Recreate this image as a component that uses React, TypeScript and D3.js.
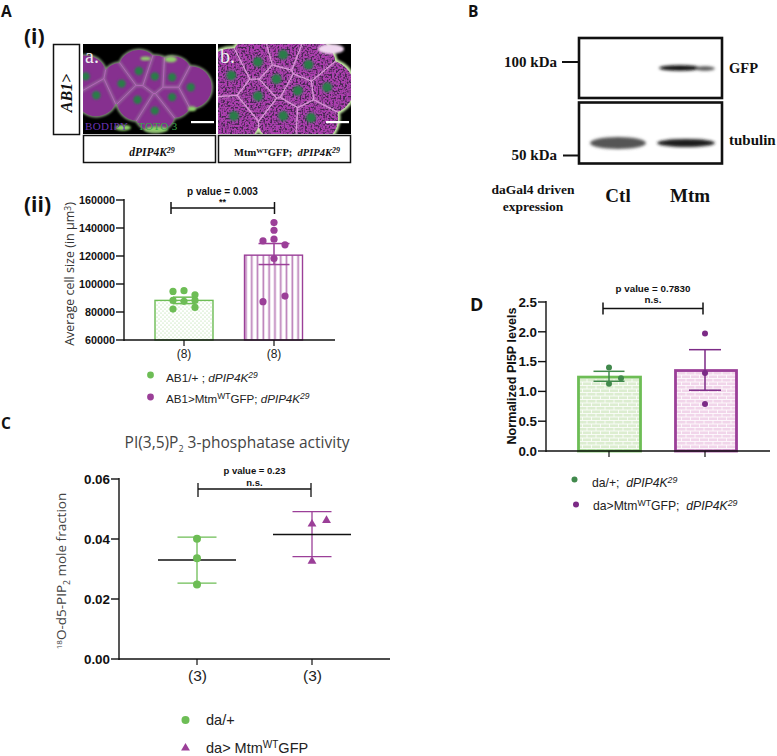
import React from "react";
import * as d3 from "d3";

const SANS = "'Liberation Sans', Arial, sans-serif";
const HUM = "'Open Sans', sans-serif";
const SERIF = "'Liberation Serif', serif";
const GREEN = "#6dbd55";
const PURPLE = "#9b3f98";
const DGREEN = "#41894c";
const DPURPLE = "#7c2a86";
const NB = "\u00a0";

// Panel A(ii)
const aTicks = [60000, 80000, 100000, 120000, 140000, 160000];
const aGroups = ["(8)", "(8)"];
const aMeans = [88300, 120600];
const aErrLow = [86000, 113900];
const aErrHigh = [90600, 128900];
const aGreenVals = [94700, 95200, 92300, 88300, 87600, 88300, 83300, 82100];
const aGreenOffsets = [-1, 0, 1, -1, 0, 1, 1, -1];
const aPurpleVals = [143850, 138400, 132000, 130800, 128000, 118200, 91400, 87400];
const aPurpleOffsets = [0, 0, 0, -1, 1, 0, 1, -1];

// Panel C
const cTicks = [0, 0.02, 0.04, 0.06];
const cMeans = [0.033, 0.0415];
const cLow = [0.0253, 0.0341];
const cHigh = [0.0406, 0.0491];
const cGreenVals = [0.0401, 0.0336, 0.0248];
const cPurpleVals = [0.045, 0.0462, 0.0326];
const cPurpleOffsets = [0, 1, 0];

// Panel D
const dTicks = [0, 0.5, 1, 1.5, 2, 2.5];
const dMeans = [1.24, 1.35];
const dLow = [1.17, 1.02];
const dHigh = [1.337, 1.7];
const dGreenVals = [1.4, 1.22, 1.13];
const dGreenOffsets = [0, 1, 0];
const dPurpleVals = [1.97, 1.31, 0.79];

// Micrographs: cell centres as fractions of each image
const cellsA = [
  [0.29, 0.44], [0.1, 0.57], [0.41, 0.62], [0.54, 0.74], [0.67, 0.59],
  [0.67, 0.37], [0.81, 0.48], [0.42, 0.3], [0.02, 0.36], [0.54, 0.36],
];
const cellsB = [
  [0.49, 0.12], [0.3, 0.2], [0.68, 0.23], [0.44, 0.39], [0.82, 0.48],
  [0.3, 0.58], [0.7, 0.82], [0.49, 0.8], [0.12, 0.8], [0.1, 0.35], [0.6, 0.52],
];
// Green patches on the tissue edge in image a
const patchesA = [[0.47, 0.16, 5, 2], [0.66, 0.17, 6, 3], [0.55, 0.95, 12, 3], [0.82, 0.72, 4, 2.5], [0.3, 0.93, 8, 3]];

const x2 = d3.scalePoint<number>().domain([0, 1]);

function Axis({ x, y, ticks, fmt, xEnd, size, w }: any) {
  return (
    <g>
      <line x1={x} x2={x} y1={y.range()[1] - 1} y2={y.range()[0] + 1} stroke="#111" strokeWidth={w} />
      <line x1={x} x2={xEnd} y1={y.range()[0]} y2={y.range()[0]} stroke="#111" strokeWidth={w} />
      {ticks.map((t: number) => (
        <g key={t}>
          <line x1={x - 8} x2={x} y1={y(t)} y2={y(t)} stroke="#111" strokeWidth={w} />
          <text x={x - 9} y={y(t) + size * 0.36} textAnchor="end" fontFamily={SANS} fontWeight="bold" fontSize={size} fill="#111">{fmt(t)}</text>
        </g>
      ))}
    </g>
  );
}

function Bracket({ x1, x2: xb, y, drop, w = 1.5 }: any) {
  return (
    <g stroke="#111" strokeWidth={w}>
      <line x1={x1} x2={xb} y1={y} y2={y} />
      <line x1={x1} x2={x1} y1={y - drop[0]} y2={y + drop[1]} />
      <line x1={xb} x2={xb} y1={y - drop[0]} y2={y + drop[1]} />
    </g>
  );
}

function ErrBar({ cx, y1, y2, half, color, w = 1.5 }: any) {
  return (
    <g stroke={color} strokeWidth={w}>
      <line x1={cx} x2={cx} y1={y1} y2={y2} />
      <line x1={cx - half} x2={cx + half} y1={y1} y2={y1} />
      <line x1={cx - half} x2={cx + half} y1={y2} y2={y2} />
    </g>
  );
}

function Micro({ x, y, w, h, cells, id, speckle, radius, patches, nucleus }: any) {
  const sx = d3.scaleLinear().domain([0, 1]).range([x, x + w]);
  const sy = d3.scaleLinear().domain([0, 1]).range([y, y + h]);
  const pts = cells.map((c: number[]) => [sx(c[0]), sy(c[1])]) as [number, number][];
  const vor = d3.Delaunay.from(pts).voronoi([x - 30, y - 30, x + w + 30, y + h + 30]);
  const edges = vor.render();
  return (
    <g>
      <rect x={x} y={y} width={w} height={h} fill="#000" />
      <clipPath id={id + "-frame"}><rect x={x} y={y} width={w} height={h} /></clipPath>
      <clipPath id={id + "-blob"}>
        {pts.map((p, i) => <circle key={i} cx={p[0]} cy={p[1]} r={radius} />)}
      </clipPath>
      <g clipPath={`url(#${id}-frame)`}>
        <g filter="url(#soft)">
          {pts.map((p, i) => <circle key={i} cx={p[0]} cy={p[1]} r={radius + (speckle ? 2.5 : 1.5)} fill={speckle ? "#c3e8a4" : "#7c8f72"} />)}
        </g>
        <g clipPath={`url(#${id}-blob)`}>
          <rect x={x} y={y} width={w} height={h} fill={speckle ? "#ab3fae" : "#86308f"} />
          <path d={edges} fill="none" stroke={speckle ? "#c99ac8" : "#9c8aa0"} strokeWidth={speckle ? 3 : 3.5} opacity={speckle ? 0.5 : 0.55} filter="url(#soft)" />
          {speckle && <rect x={x} y={y} width={w} height={h} filter="url(#speckle)" />}
          <path d={edges} fill="none" stroke={speckle ? "#dc94da" : "#b765bc"} strokeWidth={speckle ? 1.2 : 0.9} />
        </g>
        {patches && patches.map((p: number[], i: number) => (
          <ellipse key={i} cx={sx(p[0])} cy={sy(p[1])} rx={p[2]} ry={p[3]} fill="#8fd06a" filter="url(#soft)" />
        ))}
        <g filter="url(#soft)">
          {pts.map((p, i) => <circle key={i} cx={p[0]} cy={p[1]} r={nucleus} fill="#2c7c48" />)}
        </g>
      </g>
    </g>
  );
}

function Box({ x, y, w, h, sw = 1.5 }: any) {
  return <rect x={x} y={y} width={w} height={h} fill="#fff" stroke="#111" strokeWidth={sw} />;
}

export default function App() {
  const aY = d3.scaleLinear().domain([60000, 160000]).range([340, 200]);
  const aX = x2.copy().range([184, 274]);
  const cY = d3.scaleLinear().domain([0, 0.06]).range([659, 479]);
  const cX = x2.copy().range([197, 312]);
  const dY = d3.scaleLinear().domain([0, 2.5]).range([451, 302]);
  const dX = x2.copy().range([609, 705]);
  const tri = d3.symbol().type(d3.symbolTriangle).size(34);

  return (
    <svg width={777} height={756} viewBox="0 0 777 756" style={{ position: "absolute", left: 0, top: 0, background: "#fff" }}>
      <defs>
        <filter id="soft" x="-30%" y="-30%" width="160%" height="160%"><feGaussianBlur stdDeviation="1.2" /></filter>
        <filter id="band" x="-20%" y="-80%" width="140%" height="260%"><feGaussianBlur stdDeviation="1.8" /></filter>
        <filter id="speckle" x="0" y="0" width="100%" height="100%">
          <feTurbulence type="fractalNoise" baseFrequency="0.55" numOctaves="1" seed="4" />
          <feColorMatrix type="matrix" values="0 0 0 0 0.06  0 0 0 0 0.02  0 0 0 0 0.08  5 0 0 0 -2.3" />
        </filter>
        <pattern id="dots" width="4" height="4" patternUnits="userSpaceOnUse">
          <rect width="4" height="4" fill="#fff" />
          <circle cx="1" cy="1" r="0.55" fill="#9fd68e" />
          <circle cx="3" cy="3" r="0.55" fill="#9fd68e" />
        </pattern>
        <pattern id="vlines" width="5.8" height="6" patternUnits="userSpaceOnUse">
          <rect width="5.8" height="6" fill="#fff" />
          <rect x="1.5" width="1.7" height="6" fill="#bb7fb9" />
        </pattern>
        <pattern id="brickG" width="9" height="7" patternUnits="userSpaceOnUse">
          <rect width="9" height="7" fill="#dcedd0" />
          <path d="M0 .5H9M0 4H9M2 .5V4M6.5 4V7" stroke="#fff" strokeWidth="0.8" fill="none" />
        </pattern>
        <pattern id="brickP" width="9" height="7" patternUnits="userSpaceOnUse">
          <rect width="9" height="7" fill="#f1d5ea" />
          <path d="M0 .5H9M0 4H9M2 .5V4M6.5 4V7" stroke="#fff" strokeWidth="0.8" fill="none" />
        </pattern>
      </defs>

      {/* Panel letters */}
      <g fontFamily={HUM} fontWeight="bold" fontSize={15.5} fill="#111">
        <text x={1} y={17}>A</text>
        <text x={468} y={17}>B</text>
        <text x={1} y={429}>C</text>
      </g>
      <text x={470} y={311} fontFamily={HUM} fontWeight="bold" fontSize={18} fill="#111">D</text>
      <g fontFamily={HUM} fontWeight="bold" fontSize={21} fill="#111">
        <text x={24} y={44}>(i)</text>
        <text x={24} y={212}>(ii)</text>
      </g>

      {/* Panel A(i) */}
      <Box x={53.5} y={44.5} w={26} h={90} />
      <text transform="translate(72,93) rotate(-90)" textAnchor="middle" fontFamily={SERIF} fontWeight="bold" fontStyle="italic" fontSize={16} fill="#111">AB1&gt;</text>
      <Micro x={83} y={44} w={133} h={90} cells={cellsA} id="a" speckle={false} radius={21} patches={patchesA} nucleus={4.2} />
      <Micro x={218} y={44} w={133} h={90} cells={cellsB} id="b" speckle={true} radius={27} nucleus={5} />
      <ellipse cx={331} cy={49} rx={13} ry={5} fill="#f0d8f0" filter="url(#soft)" />
      <text x={85} y={63} fontFamily={SERIF} fontSize={20} fill="#eee">a.</text>
      <text x={220} y={63} fontFamily={SERIF} fontSize={20} fill="#eee">b.</text>
      <text x={85} y={130} fontFamily={SERIF} fontSize={11} letterSpacing={0.4} fill="#6a33b4">BODIPY</text>
      <text x={138} y={130} fontFamily={SERIF} fontSize={11} letterSpacing={0.4} fill="#38a64a">TOTO 3</text>
      <rect x={191} y={121} width={23} height={2.2} fill="#fff" />
      <rect x={326} y={121} width={23} height={2.2} fill="#fff" />
      <Box x={83.5} y={135.5} w={132} h={27} />
      <Box x={218.5} y={135.5} w={132} h={27} />
      <text x={152} y={156} textAnchor="middle" fontFamily={SERIF} fontSize={11.5} fontWeight="bold" fontStyle="italic" fill="#111">
        dPIP4K<tspan dy={-3.5} fontSize={8}>29</tspan>
      </text>
      <text x={287} y={156} textAnchor="middle" fontFamily={SERIF} fontSize={10.5} fontWeight="bold" fill="#111">
        Mtm<tspan dy={-3.5} fontSize={7}>WT</tspan><tspan dy={3.5}>{`GFP;${NB} `}</tspan><tspan fontStyle="italic">dPIP4K</tspan><tspan dy={-3.5} fontSize={8} fontStyle="italic">29</tspan>
      </text>

      {/* Panel A(ii) */}
      <rect x={155} y={aY(aMeans[0])} width={58} height={aY(60000) - aY(aMeans[0])} fill="url(#dots)" stroke={GREEN} strokeWidth={1.4} />
      <rect x={244.5} y={aY(aMeans[1])} width={58} height={aY(60000) - aY(aMeans[1])} fill="url(#vlines)" stroke={PURPLE} strokeWidth={1.4} />
      <ErrBar cx={aX(0)} y1={aY(aErrHigh[0])} y2={aY(aErrLow[0])} half={11} color={GREEN} />
      <ErrBar cx={aX(1)} y1={aY(aErrHigh[1])} y2={aY(aErrLow[1])} half={15.5} color={PURPLE} />
      {aGreenVals.map((v, i) => <circle key={i} cx={aX(0)! + aGreenOffsets[i] * 11} cy={aY(v)} r={3.6} fill={GREEN} />)}
      {aPurpleVals.map((v, i) => <circle key={i} cx={aX(1)! + aPurpleOffsets[i] * 11} cy={aY(v)} r={3.6} fill={PURPLE} />)}
      <Axis x={124} y={aY} ticks={aTicks} fmt={(t: number) => String(t)} xEnd={335} size={10.8} w={1.4} />
      {aGroups.map((g, i) => (
        <g key={i}>
          <line x1={aX(i)} x2={aX(i)} y1={340} y2={346} stroke="#111" strokeWidth={1.2} />
          <text x={aX(i)} y={358} textAnchor="middle" fontFamily={SANS} fontSize={12} fill="#222">{g}</text>
        </g>
      ))}
      <text transform="translate(74,274) rotate(-90)" textAnchor="middle" fontFamily={HUM} fontSize={12.5} fill="#333">
        Average cell size (in µm<tspan dy={-3.5} fontSize={8.5}>3</tspan><tspan dy={3.5}>)</tspan>
      </text>
      <Bracket x1={171} x2={274.5} y={208} drop={[6, 6]} />
      <text x={222.5} y={195} textAnchor="middle" fontFamily={SANS} fontWeight="bold" fontSize={10} fill="#111">p value = 0.003</text>
      <text x={222.5} y={205} textAnchor="middle" fontFamily={SANS} fontWeight="bold" fontSize={9} fill="#111">**</text>
      <circle cx={150.5} cy={375} r={3.4} fill={GREEN} />
      <circle cx={150.5} cy={397} r={3.4} fill={PURPLE} />
      <text x={166} y={382} fontFamily={SANS} fontSize={11.8} fill="#222">
        AB1/+ ; <tspan fontStyle="italic">dPIP4K</tspan><tspan dy={-4} fontSize={8.5} fontStyle="italic">29</tspan>
      </text>
      <text x={166} y={403} fontFamily={SANS} fontSize={11.6} fill="#222">
        AB1&gt;Mtm<tspan dy={-4} fontSize={8.5}>WT</tspan><tspan dy={4}>GFP; </tspan><tspan fontStyle="italic">dPIP4K</tspan><tspan dy={-4} fontSize={8.5} fontStyle="italic">29</tspan>
      </text>

      {/* Panel B */}
      <rect x={579} y={38} width={143} height={60} fill="#fff" stroke="#111" strokeWidth={2.6} />
      <rect x={579} y={102.5} width={143} height={61} fill="#fff" stroke="#111" strokeWidth={2.6} />
      <g filter="url(#band)">
        <ellipse cx={680} cy={68} rx={21} ry={2.8} fill="#0c0c0c" />
        <ellipse cx={705} cy={68.5} rx={10} ry={2.2} fill="#555" />
        <ellipse cx={618} cy={143} rx={28} ry={6} fill="#555" />
        <ellipse cx={686} cy={143} rx={29} ry={4} fill="#1c1c1c" />
      </g>
      <line x1={562} x2={578} y1={62} y2={62} stroke="#111" strokeWidth={2} />
      <line x1={563} x2={578} y1={155.5} y2={155.5} stroke="#111" strokeWidth={2} />
      <g fontFamily={SERIF} fontWeight="bold" fill="#111">
        <text x={557} y={67} textAnchor="end" fontSize={15}>100 kDa</text>
        <text x={557} y={160} textAnchor="end" fontSize={15}>50 kDa</text>
        <text x={729} y={73} fontSize={14.5}>GFP</text>
        <text x={729} y={145} fontSize={15}>tubulin</text>
        <text x={533} y={194} textAnchor="middle" fontSize={13.5}>daGal4 driven</text>
        <text x={533} y={211} textAnchor="middle" fontSize={13.5}>expression</text>
        <text x={618} y={202} textAnchor="middle" fontSize={19}>Ctl</text>
        <text x={690} y={202} textAnchor="middle" fontSize={19}>Mtm</text>
      </g>

      {/* Panel C */}
      <text x={237} y={448} textAnchor="middle" fontFamily={HUM} fontSize={15.5} fill="#444">
        PI(3,5)P<tspan dy={4} fontSize={9}>2</tspan><tspan dy={-4}> 3-phosphatase activity</tspan>
      </text>
      <Axis x={119} y={cY} ticks={cTicks} fmt={(t: number) => t.toFixed(2)} xEnd={390} size={13.4} w={1.4} />
      {[0, 1].map(i => <line key={i} x1={cX(i)} x2={cX(i)} y1={659} y2={665} stroke="#111" strokeWidth={1.2} />)}
      {[0, 1].map(i => <text key={i} x={cX(i)! + 0.5} y={681} textAnchor="middle" fontFamily={SANS} fontSize={15.5} fill="#222">(3)</text>)}
      <ErrBar cx={cX(0)} y1={cY(cHigh[0])} y2={cY(cLow[0])} half={19.5} color={GREEN} w={1.3} />
      <ErrBar cx={cX(1)} y1={cY(cHigh[1])} y2={cY(cLow[1])} half={19.5} color={PURPLE} w={1.3} />
      <line x1={cX(0)! - 39} x2={cX(0)! + 39} y1={cY(cMeans[0])} y2={cY(cMeans[0])} stroke="#111" strokeWidth={1.3} />
      <line x1={cX(1)! - 39} x2={cX(1)! + 39} y1={cY(cMeans[1])} y2={cY(cMeans[1])} stroke="#111" strokeWidth={1.3} />
      {cGreenVals.map((v, i) => <circle key={i} cx={cX(0)} cy={cY(v)} r={4} fill={GREEN} />)}
      {cPurpleVals.map((v, i) => (
        <path key={i} d={tri()!} transform={`translate(${cX(1)! + cPurpleOffsets[i] * 14.5},${cY(v)})`} fill={PURPLE} />
      ))}
      <Bracket x1={198} x2={311} y={489} drop={[6, 8]} w={1.3} />
      <text x={254.5} y={474} textAnchor="middle" fontFamily={SANS} fontWeight="bold" fontSize={9.5} fill="#111">p value = 0.23</text>
      <text x={254.5} y={486} textAnchor="middle" fontFamily={SANS} fontWeight="bold" fontSize={9.5} fill="#111">n.s.</text>
      <text transform="translate(66,571) rotate(-90)" textAnchor="middle" fontFamily={HUM} fontSize={13.5} fill="#444">
        <tspan dy={-4} fontSize={8}>18</tspan><tspan dy={4}>O-d5-PIP</tspan><tspan dy={3.5} fontSize={8.5}>2</tspan><tspan dy={-3.5}> mole fraction</tspan>
      </text>
      <circle cx={185.5} cy={720} r={4} fill={GREEN} />
      <path d={tri()!} transform="translate(185.5,748)" fill={PURPLE} />
      <text x={206} y={725} fontFamily={SANS} fontSize={14.5} fill="#222">da/+</text>
      <text x={206} y={752.5} fontFamily={SANS} fontSize={14.5} fill="#222">
        da&gt; Mtm<tspan dy={-5} fontSize={10}>WT</tspan><tspan dy={5}>GFP</tspan>
      </text>

      {/* Panel D */}
      <rect x={578.5} y={dY(dMeans[0])} width={62} height={dY(0) - dY(dMeans[0])} fill="url(#brickG)" stroke={GREEN} strokeWidth={2.8} />
      <rect x={675.5} y={dY(dMeans[1])} width={61} height={dY(0) - dY(dMeans[1])} fill="url(#brickP)" stroke={PURPLE} strokeWidth={2.8} />
      <ErrBar cx={dX(0)} y1={dY(dHigh[0])} y2={dY(dLow[0])} half={15.5} color={DGREEN} />
      <ErrBar cx={dX(1)} y1={dY(dHigh[1])} y2={dY(dLow[1])} half={16} color={DPURPLE} />
      {dGreenVals.map((v, i) => <circle key={i} cx={dX(0)! + dGreenOffsets[i] * 12} cy={dY(v)} r={3} fill={DGREEN} />)}
      {dPurpleVals.map((v, i) => <circle key={i} cx={dX(1)} cy={dY(v)} r={3} fill={DPURPLE} />)}
      <Axis x={546} y={dY} ticks={dTicks} fmt={(t: number) => t.toFixed(1)} xEnd={770} size={13.4} w={1.4} />
      {[0, 1].map(i => <line key={i} x1={dX(i)} x2={dX(i)} y1={451} y2={457} stroke="#111" strokeWidth={1.2} />)}
      <Bracket x1={603} x2={703} y={308.5} drop={[6, 6]} />
      <text x={653} y={292} textAnchor="middle" fontFamily={SANS} fontWeight="bold" fontSize={9.8} fill="#111">p value = 0.7830</text>
      <text x={653} y={303} textAnchor="middle" fontFamily={SANS} fontWeight="bold" fontSize={9.8} fill="#111">n.s.</text>
      <text transform="translate(516,376) rotate(-90)" textAnchor="middle" fontFamily={SANS} fontWeight="bold" fontSize={12.6} fill="#111">Normalized PI5P levels</text>
      <circle cx={574.5} cy={479.5} r={3} fill={DGREEN} />
      <circle cx={576} cy={504.5} r={3} fill={DPURPLE} />
      <text x={592} y={487} fontFamily={SANS} fontSize={12.2} fill="#222">
        {`da/+;${NB} `}<tspan fontStyle="italic">dPIP4K</tspan><tspan dy={-4} fontSize={8.8} fontStyle="italic">29</tspan>
      </text>
      <text x={593} y={510} fontFamily={SANS} fontSize={12.2} fill="#222">
        da&gt;Mtm<tspan dy={-4} fontSize={8.8}>WT</tspan><tspan dy={4}>{`GFP;${NB} `}</tspan><tspan fontStyle="italic">dPIP4K</tspan><tspan dy={-4} fontSize={8.8} fontStyle="italic">29</tspan>
      </text>
    </svg>
  );
}
